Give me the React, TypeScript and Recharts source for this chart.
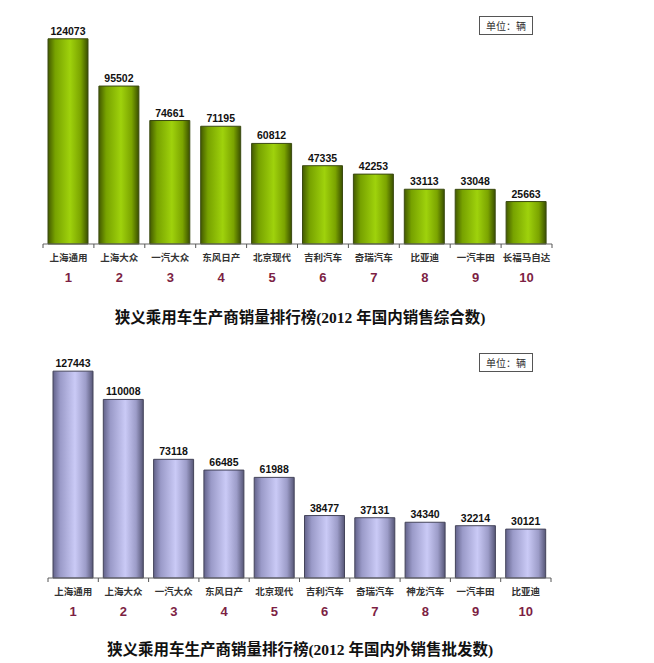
import React from "react";
import { BarChart, Bar, XAxis, YAxis, LabelList } from "recharts";

const makers1 = ["上海通用", "上海大众", "一汽大众", "东风日产", "北京现代", "吉利汽车", "奇瑞汽车", "比亚迪", "一汽丰田", "长福马自达"];
const sales1 = [124073, 95502, 74661, 71195, 60812, 47335, 42253, 33113, 33048, 25663];
const makers2 = ["上海通用", "上海大众", "一汽大众", "东风日产", "北京现代", "吉利汽车", "奇瑞汽车", "神龙汽车", "一汽丰田", "比亚迪"];
const sales2 = [127443, 110008, 73118, 66485, 61988, 38477, 37131, 34340, 32214, 30121];
const ranks = ["1", "2", "3", "4", "5", "6", "7", "8", "9", "10"];
const title1 = "狭义乘用车生产商销量排行榜(2012 年国内销售综合数)";
const title2 = "狭义乘用车生产商销量排行榜(2012 年国内外销售批发数)";
const unitLabel = "单位：辆";
const yMax = 130000;

const build = (names: string[], vals: number[]) =>
  names.map((n, i) => ({ name: n, value: vals[i], rank: ranks[i] }));

const data1 = build(makers1, sales1);
const data2 = build(makers2, sales2);

const makeTick = (step: number, count: number) => (props: any) => {
  const { x, y, payload, index } = props;
  const d = index;
  return (
    <g>
      <line x1={x - step / 2} y1={y - 8} x2={x - step / 2} y2={y - 4} stroke="#555" strokeWidth={1} />
      {d === count - 1 && (
        <line x1={x + step / 2} y1={y - 8} x2={x + step / 2} y2={y - 4} stroke="#555" strokeWidth={1} />
      )}
      <text x={x} y={y + 9} textAnchor="middle" fontSize={9.5} fontWeight="bold" fill="#333"
        fontFamily="'Noto Sans CJK SC', sans-serif">
        {payload.value}
      </text>
      <text x={x} y={y + 30} textAnchor="middle" fontSize={13} fontWeight="bold" fill="#7d1f44"
        fontFamily="'Liberation Sans', Arial, sans-serif">
        {ranks[d]}
      </text>
    </g>
  );
};

const Panel = ({ data, gid, colors, stroke, left, right, top, title, titleY, unitBox }: any) => {
  const width = 654;
  const plotBottom = top.bottom;
  const height = plotBottom + 50;
  const step = (width - left - right) / data.length;
  return (
    <div style={{ position: "absolute", left: 0, top: top.offset, width, height: 330 }}>
      <BarChart width={width} height={height} data={data}
        margin={{ top: top.plotTop, right, left, bottom: 0 }} barSize={40}>
        <defs>
          <linearGradient id={gid} x1="0" y1="0" x2="1" y2="0">
            <stop offset="0%" stopColor={colors[0]} />
            <stop offset="18%" stopColor={colors[1]} />
            <stop offset="55%" stopColor={colors[2]} />
            <stop offset="82%" stopColor={colors[3]} />
            <stop offset="100%" stopColor={colors[4]} />
          </linearGradient>
        </defs>
        <XAxis dataKey="name" height={50} interval={0} axisLine={{ stroke: "#666" }}
          tickLine={false} tick={makeTick(step, data.length)} />
        <YAxis hide domain={[0, yMax]} type="number" width={0} />
        <Bar dataKey="value" fill={`url(#${gid})`} stroke={stroke} strokeWidth={1} isAnimationActive={false}>
          <LabelList dataKey="value" position="top" offset={4} fontSize={10.5} fontWeight="bold" fill="#111"
            fontFamily="'Liberation Sans', Arial, sans-serif" />
        </Bar>
      </BarChart>
      <div style={{
        position: "absolute", left: unitBox.x, top: unitBox.y, width: 54, height: 19,
        border: "1px solid #555", boxSizing: "border-box", fontSize: 10,
        fontFamily: "'Noto Sans CJK SC', sans-serif", color: "#333", textAlign: "center", lineHeight: "17px",
        background: "#fff"
      }}>{unitLabel}</div>
      <div style={{
        position: "absolute", left: 0, width: 600, top: titleY - 10, textAlign: "center",
        fontSize: 15.5, fontWeight: "bold", lineHeight: "20px", color: "#111",
        fontFamily: "'Liberation Serif', 'Noto Sans CJK SC', serif", whiteSpace: "nowrap"
      }}>{title}</div>
    </div>
  );
};

export default function App() {
  return (
    <div style={{ position: "absolute", left: 0, top: 0, width: 654, height: 663, background: "#fff" }}>
      <Panel data={data1} gid="greenGrad"
        colors={["#435a00", "#77a200", "#9fd20c", "#7ba400", "#3a4f00"]} stroke="#3b4a12"
        left={43} right={102} top={{ offset: 0, plotTop: 29, bottom: 244 }}
        title={title1} titleY={318} unitBox={{ x: 479, y: 16 }} />
      <Panel data={data2} gid="purpleGrad"
        colors={["#62628a", "#9a9ac8", "#cacaf6", "#9c9cc8", "#565676"]} stroke="#44445a"
        left={48} right={103} top={{ offset: 330, plotTop: 37, bottom: 248 }}
        title={title2} titleY={320} unitBox={{ x: 479, y: 23 }} />
    </div>
  );
}
